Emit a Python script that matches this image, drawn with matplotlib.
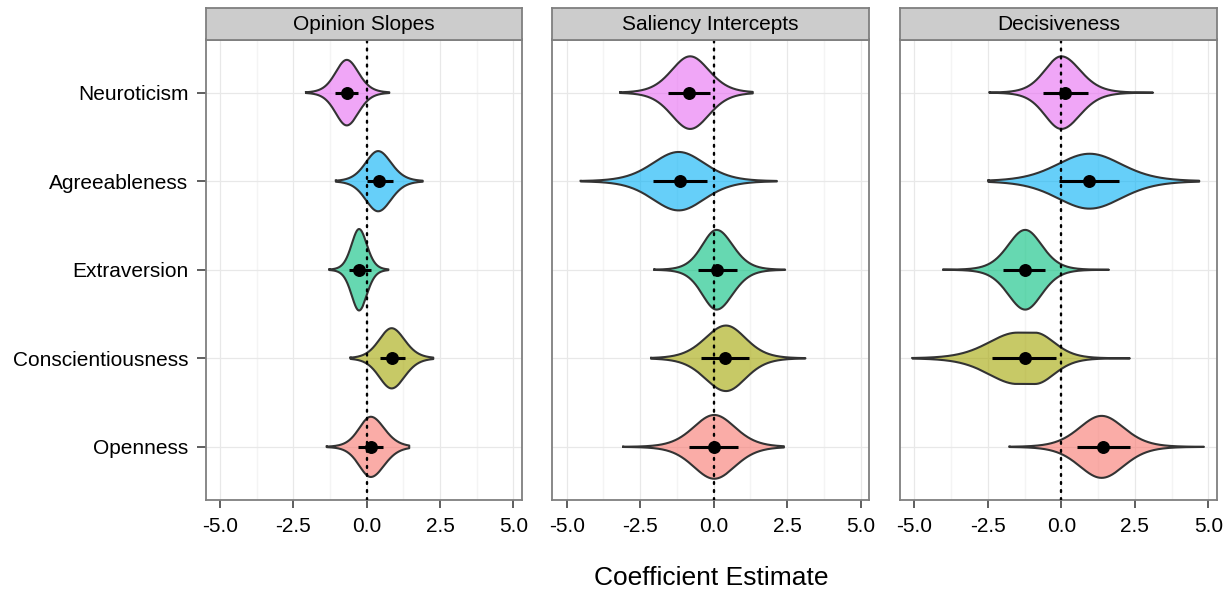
import numpy as np
import matplotlib
matplotlib.use("Agg")
import matplotlib.pyplot as plt

plt.rcParams['font.family'] = ['Liberation Sans', 'DejaVu Sans']

# ---------------- data (bottom -> top order) ----------------
traits = ["Openness", "Conscientiousness", "Extraversion", "Agreeableness", "Neuroticism"]
trait_colors = ["#F8766D", "#A3A500", "#00BF7D", "#00B0F6", "#E76BF3"]
panels = ["Opinion Slopes", "Saliency Intercepts", "Decisiveness"]
x_ticks = [-5.0, -2.5, 0.0, 2.5, 5.0]
x_tick_labels = ["-5.0", "-2.5", "0.0", "2.5", "5.0"]
x_label = "Coefficient Estimate"

# point estimates and interval ends
op_est = [0.15, 0.85, -0.26, 0.43, -0.68]
op_lo = [-0.28, 0.45, -0.59, 0.00, -1.08]
op_hi = [0.57, 1.31, 0.14, 0.91, -0.29]
sa_est = [0.00, 0.40, 0.11, -1.15, -0.83]
sa_lo = [-0.85, -0.43, -0.52, -2.08, -1.54]
sa_hi = [0.82, 1.19, 0.80, -0.23, -0.12]
de_est = [1.40, -1.25, -1.25, 0.93, 0.11]
de_lo = [0.53, -2.35, -1.99, -0.08, -0.63]
de_hi = [2.33, -0.17, -0.57, 1.96, 0.89]

# violin description: sample min / max, density mode, half-width at half max (left/right),
# plateau width at the mode, max half-height (in category units)
op_min = [-1.36, -0.55, -1.27, -1.05, -2.07]
op_max = [1.45, 2.27, 0.74, 1.91, 0.77]
op_mode = [0.14, 0.85, -0.26, 0.39, -0.68]
op_hw_l = [0.48, 0.51, 0.31, 0.51, 0.46]
op_hw_r = [0.55, 0.53, 0.32, 0.53, 0.48]
op_plat = [0.0, 0.0, 0.0, 0.0, 0.0]
op_h = [0.34, 0.34, 0.46, 0.34, 0.37]

sa_min = [-3.08, -2.13, -2.02, -4.52, -3.18]
sa_max = [2.39, 3.12, 2.43, 2.15, 1.33]
sa_mode = [0.02, 0.42, 0.10, -1.19, -0.80]
sa_hw_l = [0.85, 0.85, 0.59, 1.06, 0.76]
sa_hw_r = [0.85, 0.80, 0.66, 1.05, 0.77]
sa_plat = [0.0, 0.0, 0.0, 0.0, 0.0]
sa_h = [0.36, 0.37, 0.45, 0.33, 0.41]

de_min = [-1.76, -5.06, -4.01, -2.48, -2.44]
de_max = [4.85, 2.33, 1.62, 4.69, 3.12]
de_mode = [1.37, -1.20, -1.23, 0.96, 0.00]
de_hw_l = [0.91, 1.17, 0.70, 1.31, 0.68]
de_hw_r = [0.91, 0.79, 0.68, 1.31, 0.77]
de_plat = [0.0, 0.6, 0.0, 0.0, 0.0]
de_h = [0.35, 0.29, 0.45, 0.31, 0.41]

panel_data = [
    (op_est, op_lo, op_hi, op_min, op_max, op_mode, op_hw_l, op_hw_r, op_plat, op_h),
    (sa_est, sa_lo, sa_hi, sa_min, sa_max, sa_mode, sa_hw_l, sa_hw_r, sa_plat, sa_h),
    (de_est, de_lo, de_hi, de_min, de_max, de_mode, de_hw_l, de_hw_r, de_plat, de_h),
]

# ---------------- layout ----------------
W, H = 1229, 592
fig = plt.figure(figsize=(W / 100, H / 100), dpi=100)
fig.patch.set_facecolor("white")

panel_px = [(205.7, 521.7), (552.3, 869.0), (900.0, 1216.7)]
top_px, bot_px, strip_top_px = 39.5, 500.0, 8.3
XLIM = (-5.49, 5.285)
NU = 10.0
hw_factor = np.sqrt(NU * (2 ** (2 / (NU + 1)) - 1))  # HWHM / scale of kernel


def violin_halfwidth(x, mode, hl, hr, plat, h):
    d = np.where(x < mode - plat / 2, (mode - plat / 2 - x) / (hl / hw_factor),
                 np.where(x > mode + plat / 2, (x - mode - plat / 2) / (hr / hw_factor), 0.0))
    return h * (1 + d ** 2 / NU) ** (-(NU + 1) / 2)


for pi, (name, (l_px, r_px), data) in enumerate(zip(panels, panel_px, panel_data)):
    est, lo, hi, vmin, vmax, mode, hl, hr, plat, hh = data
    ax = fig.add_axes([l_px / W, 1 - bot_px / H, (r_px - l_px) / W, (bot_px - top_px) / H])
    ax.set_xlim(*XLIM)
    ax.set_ylim(0.4, 5.6)
    ax.set_facecolor("white")
    # grid
    for xm in [-3.75, -1.25, 1.25, 3.75]:
        ax.axvline(xm, color="#F4F4F4", lw=1.0, zorder=0)
    for xM in x_ticks:
        ax.axvline(xM, color="#E8E8E8", lw=0.9, zorder=0.1)
    for yi in range(1, len(traits) + 1):
        ax.axhline(yi, color="#E8E8E8", lw=0.9, zorder=0.1)

    for i, trait in enumerate(traits):
        y0 = i + 1
        xs = np.linspace(vmin[i], vmax[i], 600)
        w = violin_halfwidth(xs, mode[i], hl[i], hr[i], plat[i], hh[i])
        px = np.concatenate([xs, xs[::-1]])
        py = np.concatenate([y0 + w, (y0 - w)[::-1]])
        ax.fill(px, py, facecolor=trait_colors[i], alpha=0.6, edgecolor="none", zorder=2)
        ax.plot(np.append(px, px[0]), np.append(py, py[0]), color="#333333", lw=1.5,
                zorder=3, solid_joinstyle="round")

    ax.axvline(0, color="black", lw=1.7, linestyle=(0, (0.8, 2.6)), zorder=4,
               dash_capstyle="round")

    ys = np.arange(1, len(traits) + 1)
    ax.hlines(ys, lo, hi, color="black", lw=2.2, zorder=5)
    ax.plot(est, ys, "o", color="black", ms=8.3, zorder=6)

    for s in ax.spines.values():
        s.set_color("#7F7F7F")
        s.set_linewidth(1.3)
    ax.set_xticks(x_ticks)
    ax.set_xticklabels(x_tick_labels, fontsize=15, color="black")
    ax.tick_params(axis="x", length=6, width=1.1, color="#333333", pad=6)
    ax.set_yticks(ys)
    if pi == 0:
        ax.set_yticklabels(traits, fontsize=15, color="black")
        ax.tick_params(axis="y", length=6.5, width=1.1, color="#333333", pad=6)
    else:
        ax.set_yticklabels([])
        ax.tick_params(axis="y", length=0)

    # strip
    sax = fig.add_axes([l_px / W, 1 - top_px / H, (r_px - l_px) / W, (top_px - strip_top_px) / H])
    sax.set_facecolor("#CCCCCC")
    sax.set_xticks([])
    sax.set_yticks([])
    for s in sax.spines.values():
        s.set_color("#7F7F7F")
        s.set_linewidth(1.3)
    sax.text(0.5, 0.47, name, ha="center", va="center", fontsize=15, color="black",
             transform=sax.transAxes)

fig.text((205.7 + 1216.7) / 2 / W, 1 - 578 / H, x_label, ha="center", va="center", fontsize=19)

fig.savefig("out.png", dpi=100)
